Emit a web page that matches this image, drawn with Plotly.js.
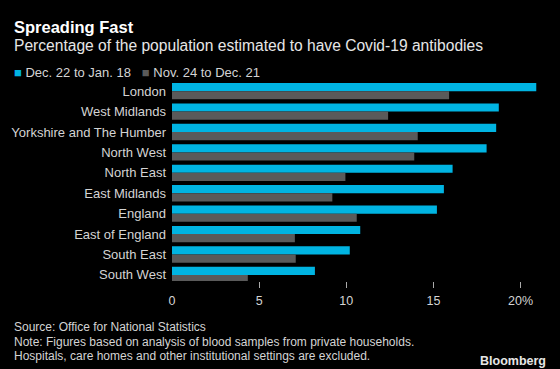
<!DOCTYPE html>
<html>
<head>
<meta charset="utf-8">
<script src="https://cdn.plot.ly/plotly-3.0.1.min.js"></script>
<style>html,body{margin:0;padding:0;background:#000;}#chart{width:560px;height:369px;}</style>
</head>
<body>
<div id="chart"></div>
<script>
var regions = ["London","West Midlands","Yorkshire and The Humber","North West","North East","East Midlands","England","East of England","South East","South West"];
var recent = [20.9, 18.75, 18.6, 18.05, 16.1, 15.6, 15.2, 10.8, 10.2, 8.2];
var earlier = [15.9, 12.4, 14.1, 13.9, 9.95, 9.2, 10.6, 7.05, 7.1, 4.35];
var seriesNames = ["Dec. 22 to Jan. 18", "Nov. 24 to Dec. 21"];
var tickVals = [0, 5, 10, 15, 20];
var tickText = ["0", "5", "10", "15", "20%"];
var title = "Spreading Fast";
var subtitle = "Percentage of the population estimated to have Covid-19 antibodies";
var footLines = ["Source: Office for National Statistics",
  "Note: Figures based on analysis of blood samples from private households.",
  "Hospitals, care homes and other institutional settings are excluded."];

var W = 560, H = 369, ml = 172, mr = 22, mt = 81, mb = 88;
var pw = W - ml - mr, ph = H - mt - mb;
function px(x){ return (x - ml) / pw; }
function py(y){ return (H - mb - y) / ph; }
var FONT = "Liberation Sans, Arial, sans-serif";
var colors = ["#00b4e2", "#5a5a5a"];
var txt = "#d4d4d4";

var traces = [
  {type:"bar", orientation:"h", y:regions, x:recent, name:seriesNames[0], marker:{color:colors[0]}, hoverinfo:"none"},
  {type:"bar", orientation:"h", y:regions, x:earlier, name:seriesNames[1], marker:{color:colors[1]}, hoverinfo:"none"}
];

var ann = [];
ann.push({xref:"paper", yref:"paper", x:px(12), y:py(27), xanchor:"left", yanchor:"middle", showarrow:false,
  text:"<b>"+title+"</b>", font:{family:FONT, size:16.5, color:"#ffffff"}});
ann.push({xref:"paper", yref:"paper", x:px(12), y:py(46), xanchor:"left", yanchor:"middle", showarrow:false,
  text:subtitle, font:{family:FONT, size:15.6, color:"#e6e6e6"}});
ann.push({xref:"paper", yref:"paper", x:px(12), y:py(72), xanchor:"left", yanchor:"middle", showarrow:false,
  text:"<span style='color:"+colors[0]+"'>■</span> "+seriesNames[0]+"   <span style='color:"+colors[1]+"'>■</span> "+seriesNames[1],
  font:{family:FONT, size:13, color:txt}});
var fy = [327, 341.5, 356];
for (var i=0;i<footLines.length;i++){
  ann.push({xref:"paper", yref:"paper", x:px(12), y:py(fy[i]), xanchor:"left", yanchor:"middle", showarrow:false,
    text:footLines[i], font:{family:FONT, size:12, color:txt}});
}
ann.push({xref:"paper", yref:"paper", x:px(548), y:py(361), xanchor:"right", yanchor:"middle", showarrow:false,
  text:"<b>Bloomberg</b>", font:{family:FONT, size:12.5, color:"#e6e6e6"}});

var layout = {
  width:W, height:H, paper_bgcolor:"#000", plot_bgcolor:"#000",
  margin:{l:ml, r:mr, t:mt, b:mb, pad:0},
  showlegend:false,
  barmode:"group", bargap:0.2, bargroupgap:0,
  xaxis:{range:[0,21], showgrid:false, zeroline:false, showline:false, tickmode:"array",
    tickvals:tickVals, ticktext:tickText, ticks:"", ticklabelstandoff:10,
    tickfont:{family:FONT, size:12.5, color:txt},
    minor:{tickmode:"array", tickvals:tickVals.slice(1), ticks:"outside", ticklen:6, tickwidth:1, tickcolor:"#aaaaaa", showgrid:false},
    fixedrange:true},
  yaxis:{type:"category", range:[9.3,-0.5], showgrid:false, zeroline:false, showline:false, ticks:"",
    ticklabelstandoff:5, tickfont:{family:FONT, size:13, color:txt}, fixedrange:true},
  annotations:ann
};
Plotly.newPlot("chart", traces, layout, {displayModeBar:false, staticPlot:true});
</script>
</body>
</html>
